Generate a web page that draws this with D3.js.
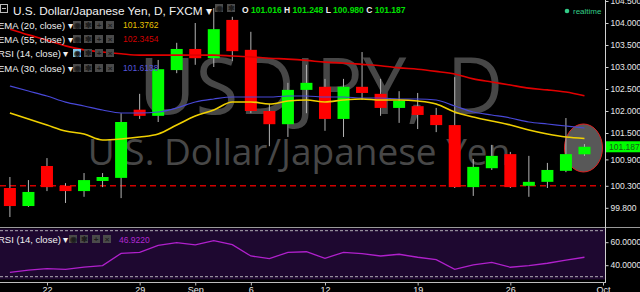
<!DOCTYPE html>
<html>
<head>
<meta charset="utf-8">
<script src="https://cdnjs.cloudflare.com/ajax/libs/d3/7.8.5/d3.min.js"></script>
<style>
  body { margin: 0; background: #000; }
  svg { display: block; font-family: "Liberation Sans", Arial, sans-serif; }
</style>
</head>
<body>
<div id="chart"></div>
<script>

var dates = ["2016-08-18","2016-08-19","2016-08-22","2016-08-23","2016-08-24","2016-08-25","2016-08-26",
  "2016-08-29","2016-08-30","2016-08-31","2016-09-01","2016-09-02","2016-09-05","2016-09-06","2016-09-07",
  "2016-09-08","2016-09-09","2016-09-12","2016-09-13","2016-09-14","2016-09-15","2016-09-16","2016-09-19",
  "2016-09-20","2016-09-21","2016-09-22","2016-09-23","2016-09-26","2016-09-27","2016-09-28","2016-09-29","2016-09-30"];

var open  = [100.25, 99.84, 100.75, 100.30, 100.18, 100.41, 100.48, 102.03, 101.89, 102.93, 103.41, 103.20, 104.07, 103.39, 102.00, 101.70,
  102.48, 102.55, 101.82, 102.55, 102.39, 102.07, 102.11, 101.91, 101.68, 100.27, 100.70, 101.02, 100.30, 100.39, 100.64, 101.016];
var high  = [100.50, 100.43, 100.93, 100.36, 100.59, 100.59, 101.95, 102.39, 103.16, 103.55, 104.00, 104.34, 104.14, 103.80, 102.16, 102.64,
  103.05, 102.73, 102.73, 103.34, 102.73, 102.45, 102.41, 102.07, 102.77, 100.91, 101.23, 101.07, 100.98, 100.82, 101.84, 101.248];
var low   = [99.59, 99.82, 100.18, 99.91, 100.05, 100.27, 100.02, 101.82, 101.75, 102.86, 103.05, 103.00, 103.14, 101.95, 101.20, 101.41,
  101.95, 101.55, 101.41, 102.25, 101.89, 101.73, 101.59, 101.52, 100.25, 100.07, 100.66, 100.25, 100.05, 100.25, 100.61, 100.980];
var close = [99.84, 100.16, 100.27, 100.18, 100.43, 100.50, 101.75, 101.89, 102.95, 103.41, 103.20, 103.86, 103.36, 102.00, 101.70, 102.48,
  102.64, 101.82, 102.55, 102.41, 102.07, 102.23, 101.91, 101.68, 100.27, 100.73, 100.98, 100.27, 100.39, 100.66, 101.02, 101.187];

var ema20 = [101.955, 101.818, 101.682, 101.545, 101.477, 101.341, 101.364, 101.409, 101.477, 101.682, 101.886, 102.023, 102.205, 102.205,
  102.159, 102.227, 102.25, 102.205, 102.25, 102.273, 102.25, 102.25, 102.227, 102.159, 101.977, 101.864, 101.773, 101.682, 101.568,
  101.477, 101.409, 101.3762];
var ema55 = [103.86, 103.73, 103.61, 103.48, 103.39, 103.34, 103.30, 103.27, 103.27, 103.27, 103.27, 103.27, 103.25, 103.23, 103.20,
  103.18, 103.15, 103.11, 103.09, 103.06, 103.03, 102.98, 102.95, 102.90, 102.84, 102.73, 102.66, 102.59, 102.52, 102.48, 102.43, 102.3454];
var ema30 = [102.568, 102.455, 102.341, 102.20, 102.114, 102.023, 101.955, 101.955, 101.977, 102.068, 102.205, 102.273, 102.318, 102.318,
  102.318, 102.341, 102.341, 102.318, 102.318, 102.295, 102.295, 102.273, 102.273, 102.25, 102.114, 101.977, 101.909, 101.841, 101.75,
  101.705, 101.659, 101.6138];
var rsi = [33.8, 35.8, 37.0, 36.4, 38.4, 39.6, 50.3, 51.2, 57.3, 59.6, 57.6, 61.3, 57.8, 48.0, 45.7, 51.2, 51.7, 46.0, 51.2, 50.0,
  48.0, 49.5, 46.9, 44.8, 36.4, 40.2, 42.5, 38.2, 39.6, 41.7, 44.5, 46.922];

var xTickDates = ["2016-08-22","2016-08-29","2016-09-01","2016-09-06","2016-09-12","2016-09-19","2016-09-26","2016-10-03"];
var xTickLabels = ["22","29","Sep","6","12","19","26","Oct"];
var priceTicks = [104.5, 104.0, 103.5, 103.0, 102.5, 102.0, 101.5, 100.9, 100.3, 99.8];
var rsiTicks = [60, 40];
var hLine = 100.30;
var lastPrice = 101.187;

var width = 640, height = 292;
var axisX = 605;

var svg = d3.select("#chart").append("svg")
    .attr("width", width)
    .attr("height", height);

svg.append("rect").attr("width", width).attr("height", height).attr("fill", "#000");

var x = d3.scalePoint()
    .domain(dates.concat(["2016-10-03"]))
    .range([9.9, 603]);

var y = d3.scaleLinear()
    .domain([99.5, 104.5])
    .range([221, 1]);

var yRsi = d3.scaleLinear()
    .domain([30, 70])
    .range([276.7, 230.7]);

var data = dates.map(function(d, i) {
  return {date: d, o: open[i], h: high[i], l: low[i], c: close[i],
    e20: ema20[i], e55: ema55[i], e30: ema30[i], rsi: rsi[i]};
});

svg.append("clipPath").attr("id", "clip-main")
  .append("rect").attr("x", 0).attr("y", 0).attr("width", axisX).attr("height", 227);

var main = svg.append("g").attr("clip-path", "url(#clip-main)");

// watermark
main.append("text")
    .attr("x", 321).attr("y", 114)
    .attr("text-anchor", "middle")
    .style("font-family", "'Open Sans', sans-serif")
    .style("font-size", "78px")
    .style("fill", "#474747")
    .text("USDJPY, D");

main.append("text")
    .attr("x", 299).attr("y", 165)
    .attr("text-anchor", "middle")
    .style("font-family", "'Open Sans', sans-serif")
    .style("font-size", "37px")
    .style("fill", "#474747")
    .text("U.S. Dollar/Japanese Yen");

// highlight ellipse round the last bar
var last = data[data.length - 1];
main.append("ellipse")
    .attr("cx", x(last.date) - 1).attr("cy", y((last.h + last.l) / 2) - 2)
    .attr("rx", 19).attr("ry", 24)
    .attr("fill", "#585858")
    .attr("stroke", "#e02020")
    .attr("stroke-width", 1);

// horizontal level
main.append("line")
    .attr("x1", 0).attr("x2", axisX - 4)
    .attr("y1", y(hLine)).attr("y2", y(hLine))
    .attr("stroke", "#d00000")
    .attr("stroke-width", 1.5)
    .attr("stroke-dasharray", "6,4");

// candles
var candle = main.selectAll(".candle").data(data).enter().append("g");

candle.append("line")
    .attr("x1", function(d) { return x(d.date); })
    .attr("x2", function(d) { return x(d.date); })
    .attr("y1", function(d) { return y(d.h); })
    .attr("y2", function(d) { return y(d.l); })
    .attr("stroke", "#b4b4b4")
    .attr("stroke-width", 1);

candle.append("rect")
    .attr("x", function(d) { return x(d.date) - 6; })
    .attr("width", 12)
    .attr("y", function(d) { return y(Math.max(d.o, d.c)); })
    .attr("height", function(d) { return Math.max(1, Math.abs(y(d.o) - y(d.c))); })
    .attr("fill", function(d) { return d.c >= d.o ? "#00ff00" : "#ff0000"; });

// moving averages
var lines = [
  {key: "e55", color: "#e00000", w: 1.6},
  {key: "e30", color: "#4848d8", w: 1.2},
  {key: "e20", color: "#f0d000", w: 1.6}
];
lines.forEach(function(s) {
  main.append("path")
      .datum(data)
      .attr("fill", "none")
      .attr("stroke", s.color)
      .attr("stroke-width", s.w)
      .attr("d", d3.line()
        .curve(d3.curveMonotoneX)
        .x(function(d) { return x(d.date); })
        .y(function(d) { return y(d[s.key]); }));
});

// RSI panel
svg.append("rect")
    .attr("x", 0).attr("y", 228.5)
    .attr("width", axisX).attr("height", 51)
    .attr("fill", "#1e0830");

[70, 30].forEach(function(v) {
  svg.append("line")
      .attr("x1", 0).attr("x2", axisX)
      .attr("y1", yRsi(v)).attr("y2", yRsi(v))
      .attr("stroke", "#d8d8d8")
      .attr("stroke-width", 0.8)
      .attr("stroke-dasharray", "3,2");
});

svg.append("path")
    .datum(data)
    .attr("fill", "none")
    .attr("stroke", "#b020cc")
    .attr("stroke-width", 1.3)
    .attr("d", d3.line()
      .x(function(d) { return x(d.date); })
      .y(function(d) { return yRsi(d.rsi); }));

// panel borders
svg.append("line").attr("x1", 0).attr("x2", width).attr("y1", 227.5).attr("y2", 227.5)
    .attr("stroke", "#9a9a9a").attr("stroke-width", 1);
svg.append("line").attr("x1", axisX + 0.5).attr("x2", axisX + 0.5).attr("y1", 0).attr("y2", 283)
    .attr("stroke", "#cfcfcf").attr("stroke-width", 1);

// price axis
var yAxis = svg.append("g")
    .attr("transform", "translate(" + (axisX + 0.5) + ",0)")
    .call(d3.axisRight(y).tickValues(priceTicks).tickFormat(d3.format(".3f")).tickSize(3).tickPadding(2));
yAxis.select(".domain").remove();

var rAxis = svg.append("g")
    .attr("transform", "translate(" + (axisX + 0.5) + ",0)")
    .call(d3.axisRight(yRsi).tickValues(rsiTicks).tickFormat(d3.format(".4f")).tickSize(3).tickPadding(2));
rAxis.select(".domain").remove();

[yAxis, rAxis].forEach(function(a) {
  a.selectAll("line").attr("stroke", "#cfcfcf");
  a.selectAll("text").attr("fill", "#e8e8e8").style("font-size", "8.5px")
      .style("font-family", "'Liberation Sans', Arial, sans-serif");
});

// last price tag
svg.append("rect")
    .attr("x", axisX + 1).attr("y", y(lastPrice) - 5.5)
    .attr("width", 35).attr("height", 11)
    .attr("fill", "#00ff00");
svg.append("text")
    .attr("x", axisX + 4).attr("y", y(lastPrice) + 3.3)
    .style("font-size", "8.5px")
    .style("fill", "#1a5a1a")
    .text(d3.format(".3f")(lastPrice));

// time axis
var xAxis = svg.append("g")
    .attr("transform", "translate(0,282.5)")
    .call(d3.axisBottom(x).tickValues(xTickDates)
      .tickFormat(function(d) { return xTickLabels[xTickDates.indexOf(d)]; })
      .tickSize(3).tickPadding(1).tickSizeOuter(0));
xAxis.select(".domain").attr("stroke", "#bdbdbd").attr("d", "M0,0H" + (axisX + 1));
xAxis.selectAll("line").attr("stroke", "#bdbdbd");
xAxis.selectAll("text").attr("fill", "#e8e8e8").style("font-size", "9px")
    .style("font-family", "'Liberation Sans', Arial, sans-serif");

// header
function iconBox(g, bx, by, glyph, bg) {
  g.append("rect").attr("x", bx).attr("y", by).attr("width", 8).attr("height", 8)
      .attr("fill", bg || "#4a4a4a");
  g.append("text").attr("x", bx + 4).attr("y", by + 7)
      .attr("text-anchor", "middle")
      .style("font-size", "8px").style("fill", "#1c1c1c").style("font-weight", "bold")
      .text(glyph);
}

var head = svg.append("g");
head.append("rect").attr("x", 0.5).attr("y", 4.5).attr("width", 7).attr("height", 8)
    .attr("fill", "none").attr("stroke", "#bbb");
head.append("line").attr("x1", 2).attr("x2", 6).attr("y1", 8.5).attr("y2", 8.5).attr("stroke", "#bbb");
head.append("text").attr("x", 13).attr("y", 15)
    .style("font-size", "11.8px").style("fill", "#f2f2f2")
    .text("U.S. Dollar/Japanese Yen, D, FXCM ▾");
iconBox(head, 215, 4, "◉");
iconBox(head, 227, 4, "✱");

var ohlc = head.append("text").attr("x", 242).attr("y", 13)
    .style("font-size", "8.5px").style("font-weight", "bold");
[["O ", last.o], [" H ", last.h], [" L ", last.l], [" C ", last.c]].forEach(function(p) {
  ohlc.append("tspan").style("fill", "#f0f0f0").text(p[0]);
  ohlc.append("tspan").style("fill", "#00e000").text(d3.format(".3f")(p[1]));
});

head.append("circle").attr("cx", 567).attr("cy", 11).attr("r", 2.3).attr("fill", "#33cc88");
head.append("text").attr("x", 573).attr("y", 13.5)
    .style("font-size", "8px").style("fill", "#33cc88").text("realtime");

// indicator legend
var legendRows = [
  {label: "EMA (20, close) ▾", value: ema20[ema20.length - 1].toFixed(4), color: "#e6c200", y: 25},
  {label: "EMA (55, close) ▾", value: ema55[ema55.length - 1].toFixed(4), color: "#d00000", y: 39},
  {label: "RSI (14, close) ▾", value: null, color: null, y: 53, active: true},
  {label: "EMA (30, close) ▾", value: ema30[ema30.length - 1].toFixed(4), color: "#5555dd", y: 68}
];
legendRows.forEach(function(r) {
  head.append("text").attr("x", -2).attr("y", r.y + 3.5)
      .style("font-size", "9.5px").style("fill", "#f0f0f0").text(r.label);
  iconBox(head, 73, r.y - 4, "◉", r.active ? "#7fc4e8" : null);
  iconBox(head, 84, r.y - 4, "✱");
  iconBox(head, 95, r.y - 4, "+");
  iconBox(head, 106, r.y - 4, "×");
  if (r.value) {
    head.append("text").attr("x", 123).attr("y", r.y + 3)
        .style("font-size", "8.5px").style("fill", r.color).text(r.value);
  }
});

// RSI legend
head.append("text").attr("x", -2).attr("y", 242.5)
    .style("font-size", "9.5px").style("fill", "#f0f0f0").text("RSI (14, close) ▾");
iconBox(head, 69, 235, "◉");
iconBox(head, 80, 235, "✱");
iconBox(head, 92, 235, "+");
iconBox(head, 103, 235, "×");
head.append("text").attr("x", 119).attr("y", 242.5)
    .style("font-size", "8.5px").style("fill", "#b028d0").text(rsi[rsi.length - 1].toFixed(4));

</script>
</body>
</html>
